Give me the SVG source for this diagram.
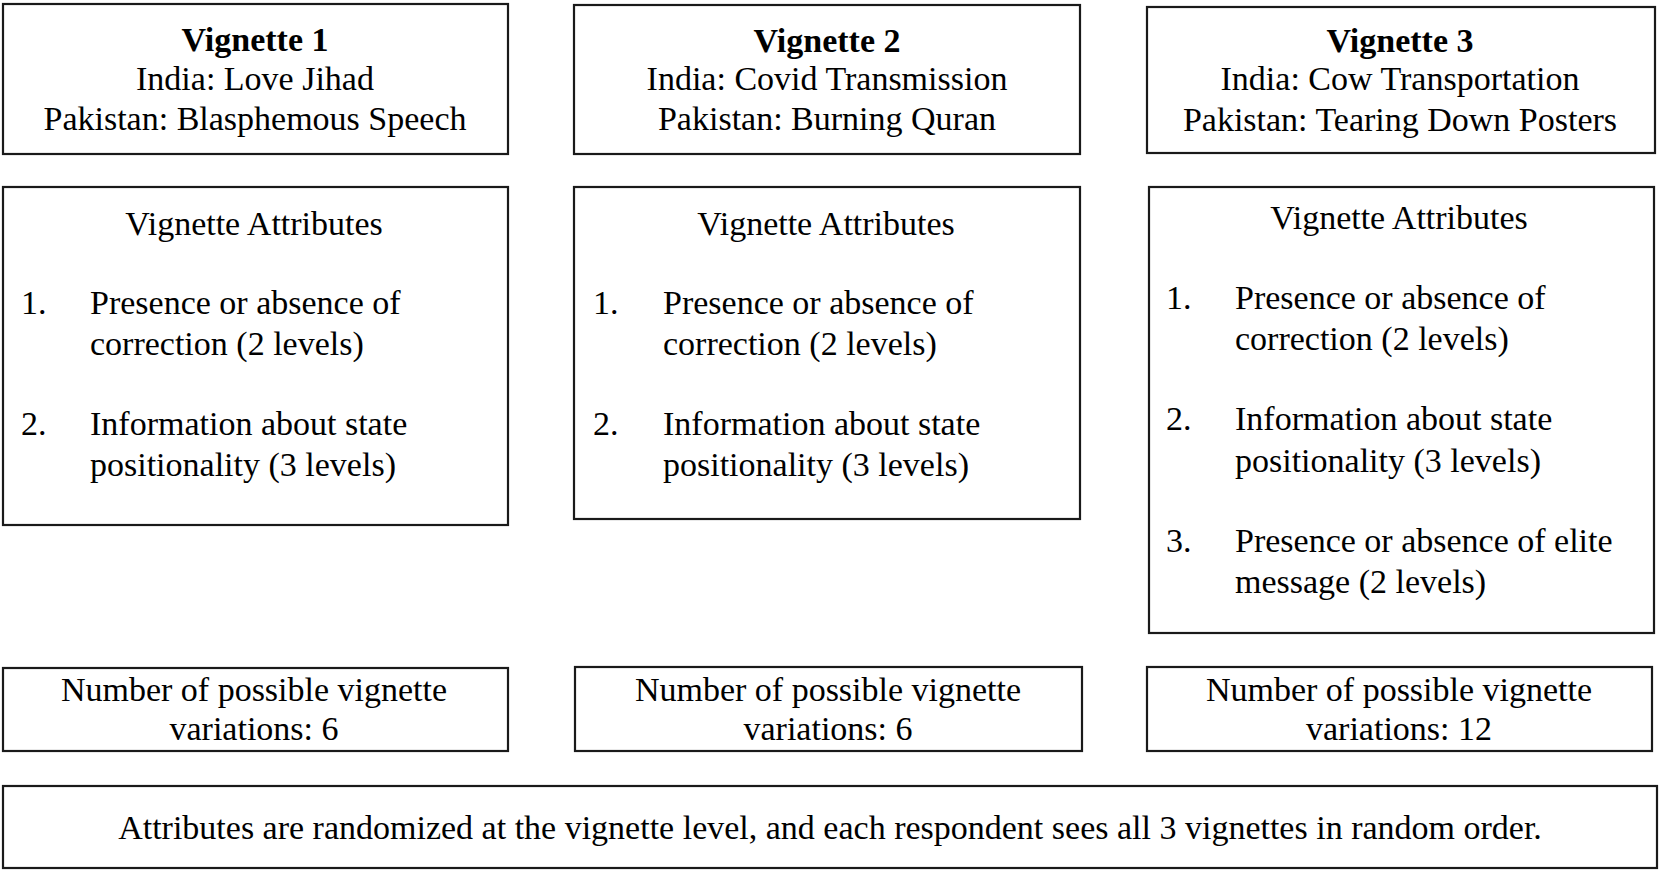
<svg xmlns="http://www.w3.org/2000/svg" width="1661" height="873" viewBox="0 0 1661 873">
<style>
rect.box{fill:#fff;stroke:#1a1a1a;stroke-width:2.2}
text{font-family:"Liberation Serif","Times New Roman",serif;font-size:34px;fill:#000}
.c{text-anchor:middle}
.b{font-weight:bold}
</style>
<rect width="1661" height="873" fill="#fff"/>
<g id="v1-title">
<rect class="box" x="3" y="4" width="505" height="150"/>
<text class="c b" x="255" y="51">Vignette 1</text>
<text class="c" x="255" y="90">India: Love Jihad</text>
<text class="c" x="255" y="130">Pakistan: Blasphemous Speech</text>
</g>
<g id="v2-title">
<rect class="box" x="574" y="5" width="506" height="149"/>
<text class="c b" x="827" y="52">Vignette 2</text>
<text class="c" x="827" y="90">India: Covid Transmission</text>
<text class="c" x="827" y="130">Pakistan: Burning Quran</text>
</g>
<g id="v3-title">
<rect class="box" x="1147" y="7" width="508" height="146"/>
<text class="c b" x="1400" y="52">Vignette 3</text>
<text class="c" x="1400" y="90">India: Cow Transportation</text>
<text class="c" x="1400" y="131">Pakistan: Tearing Down Posters</text>
</g>
<g id="v1-attributes">
<rect class="box" x="3" y="187" width="505" height="338"/>
<text class="c" x="254" y="235">Vignette Attributes</text>
<text x="21" y="314">1.</text>
<text x="90" y="314">Presence or absence of</text>
<text x="90" y="355">correction (2 levels)</text>
<text x="21" y="435">2.</text>
<text x="90" y="435">Information about state</text>
<text x="90" y="476">positionality (3 levels)</text>
</g>
<g id="v2-attributes">
<rect class="box" x="574" y="187" width="506" height="332"/>
<text class="c" x="826" y="235">Vignette Attributes</text>
<text x="593" y="314">1.</text>
<text x="663" y="314">Presence or absence of</text>
<text x="663" y="355">correction (2 levels)</text>
<text x="593" y="435">2.</text>
<text x="663" y="435">Information about state</text>
<text x="663" y="476">positionality (3 levels)</text>
</g>
<g id="v3-attributes">
<rect class="box" x="1149" y="187" width="505" height="446"/>
<text class="c" x="1399" y="229">Vignette Attributes</text>
<text x="1166" y="309">1.</text>
<text x="1235" y="309">Presence or absence of</text>
<text x="1235" y="350">correction (2 levels)</text>
<text x="1166" y="430">2.</text>
<text x="1235" y="430">Information about state</text>
<text x="1235" y="472">positionality (3 levels)</text>
<text x="1166" y="552">3.</text>
<text x="1235" y="552">Presence or absence of elite</text>
<text x="1235" y="593">message (2 levels)</text>
</g>
<g id="v1-variations">
<rect class="box" x="3" y="668" width="505" height="83"/>
<text class="c" x="254" y="701">Number of possible vignette</text>
<text class="c" x="254" y="740">variations: 6</text>
</g>
<g id="v2-variations">
<rect class="box" x="575" y="667" width="507" height="84"/>
<text class="c" x="828" y="701">Number of possible vignette</text>
<text class="c" x="828" y="740">variations: 6</text>
</g>
<g id="v3-variations">
<rect class="box" x="1147" y="667" width="505" height="84"/>
<text class="c" x="1399" y="701">Number of possible vignette</text>
<text class="c" x="1399" y="740">variations: 12</text>
</g>
<g id="note">
<rect class="box" x="3" y="786" width="1654" height="82"/>
<text class="c" x="830" y="839">Attributes are randomized at the vignette level, and each respondent sees all 3 vignettes in random order.</text>
</g>
</svg>
